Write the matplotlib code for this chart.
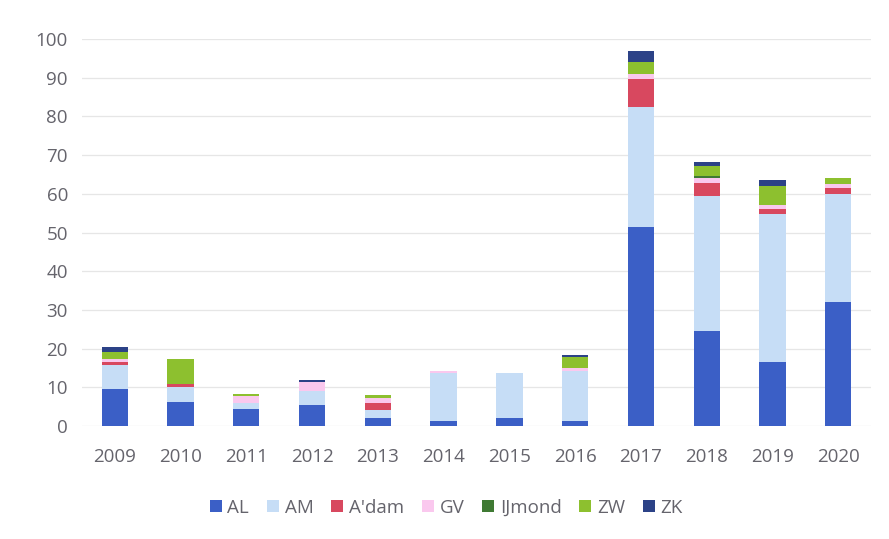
import matplotlib
matplotlib.use("Agg")
import matplotlib.pyplot as plt
import numpy as np

plt.rcParams['font.family'] = ['Open Sans', 'DejaVu Sans']

years = ['2009', '2010', '2011', '2012', '2013', '2014', '2015', '2016',
         '2017', '2018', '2019', '2020']

series_names = ['AL', 'AM', "A'dam", 'GV', 'IJmond', 'ZW', 'ZK']
AL     = [9.5, 6.3, 4.3, 5.4, 2.0, 1.2, 2.2, 1.2, 51.3, 24.6, 16.5, 32.0]
AM     = [6.2, 3.7, 1.6, 3.6, 2.1, 12.4, 11.4, 13.0, 31.1, 34.9, 38.2, 28.0]
ADAM   = [0.8, 0.9, 0.0, 0.0, 1.8, 0.0, 0.0, 0.0, 7.3, 3.2, 1.3, 1.4]
GV     = [0.8, 0.0, 1.9, 2.3, 1.3, 0.5, 0.0, 0.7, 1.2, 1.5, 1.0, 1.1]
IJMOND = [0.0, 0.0, 0.0, 0.0, 0.0, 0.0, 0.0, 0.1, 0.0, 0.3, 0.0, 0.0]
ZW     = [1.9, 6.3, 0.6, 0.0, 0.8, 0.0, 0.0, 2.8, 3.1, 2.6, 4.9, 1.7]
ZK     = [1.2, 0.0, 0.0, 0.6, 0.0, 0.0, 0.0, 0.5, 2.9, 1.1, 1.8, 0.0]

colors = ['#3B5FC6', '#C6DDF6', '#D8485F', '#FAC8EE', '#3F7A33', '#8DC02F', '#2C4287']
values = [AL, AM, ADAM, GV, IJMOND, ZW, ZK]
text_color = '#65646C'

fig = plt.figure(figsize=(8.89, 5.39), dpi=100)
ax = fig.add_axes([0.092, 0.2096, 0.888, 0.718])

x = np.arange(len(years))
bottom = np.zeros(len(years))
for name, vals, col in zip(series_names, values, colors):
    v = np.array(vals)
    ax.bar(x, v, width=0.4, bottom=bottom, color=col, label=name, zorder=3)
    bottom += v

ax.set_xlim(-0.5, len(years) - 0.5)
ax.set_ylim(0, 100)
ax.set_yticks(np.arange(0, 101, 10))
ax.set_xticks(x)
ax.set_xticklabels(years)
ax.yaxis.grid(True, color='#E6E6E6', linewidth=0.9, zorder=0)
for s in ax.spines.values():
    s.set_visible(False)
ax.tick_params(axis='both', length=0, labelsize=13.5, colors=text_color)
ax.tick_params(axis='x', pad=16)
ax.tick_params(axis='y', pad=10)

leg = fig.legend(loc='center', bbox_to_anchor=(0.502, 0.058), ncol=7, frameon=False,
                 fontsize=13.5, handlelength=0.64, handleheight=0.64, handletextpad=0.3,
                 columnspacing=0.95)
for t in leg.get_texts():
    t.set_color(text_color)

fig.savefig('out.png', dpi=100)
